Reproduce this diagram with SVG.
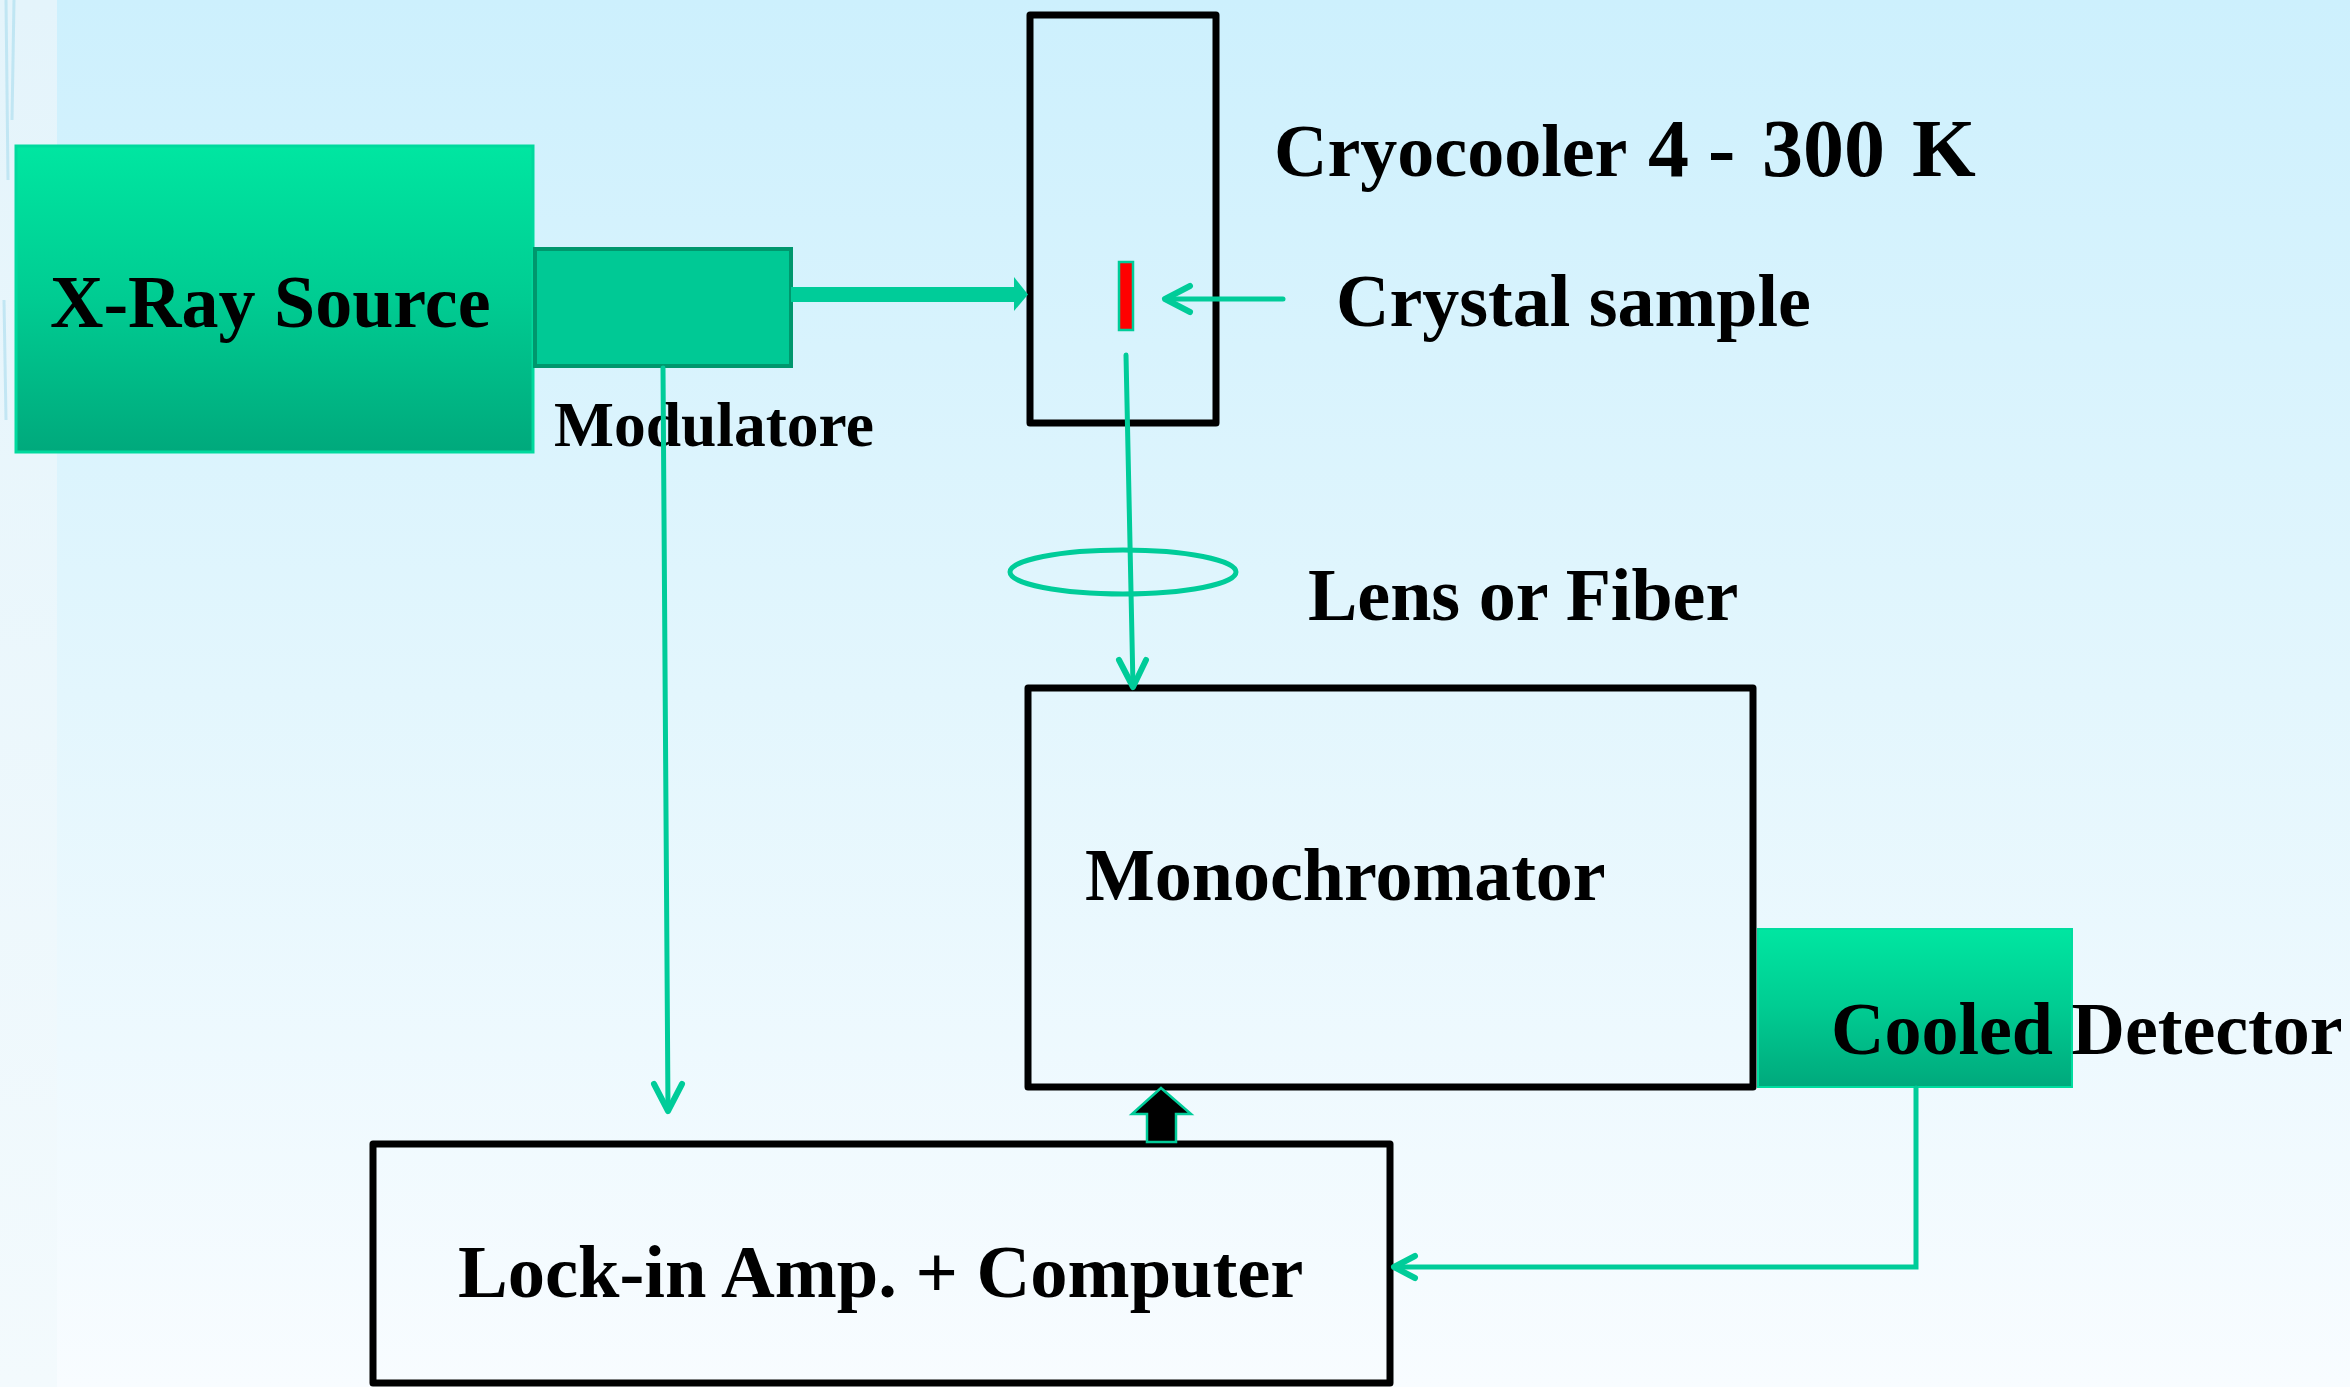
<svg xmlns="http://www.w3.org/2000/svg" width="2350" height="1387" viewBox="0 0 2350 1387">
<defs>
<linearGradient id="bg" x1="0" y1="0" x2="0" y2="1">
<stop offset="0" stop-color="#cdf0fd"/>
<stop offset="0.5" stop-color="#e3f6fd"/>
<stop offset="1" stop-color="#f8fcff"/>
</linearGradient>
<linearGradient id="strip" x1="0" y1="0" x2="0" y2="1">
<stop offset="0" stop-color="#e4f4fb"/>
<stop offset="1" stop-color="#f3fafd"/>
</linearGradient>
<linearGradient id="green" x1="0" y1="0" x2="0" y2="1">
<stop offset="0" stop-color="#00e6a1"/>
<stop offset="0.5" stop-color="#00cc92"/>
<stop offset="1" stop-color="#00a97c"/>
</linearGradient>
<style>
.lbl{font-family:"Liberation Serif","Times New Roman",serif;font-weight:bold;fill:#000;}
.box{fill:none;stroke:#000;stroke-width:7;stroke-linejoin:round;}
.wire{fill:none;stroke:#00cc99;stroke-width:5;stroke-linecap:round;stroke-linejoin:miter;}
.head{fill:none;stroke:#00cc99;stroke-width:6;stroke-linecap:round;stroke-linejoin:round;}
</style>
</defs>
<rect x="0" y="0" width="2350" height="1387" fill="url(#bg)"/>
<rect x="0" y="0" width="57" height="1387" fill="url(#strip)"/>
<path d="M6 0 L8 180 M14 0 L12 120 M4 300 L6 420" stroke="#a9dcef" stroke-width="3" fill="none" opacity="0.6"/>

<g id="xray-source">
<rect x="16" y="146" width="517" height="306" fill="url(#green)" stroke="#00d99d" stroke-width="3"/>
<text class="lbl" x="50" y="327" font-size="74">X-Ray Source</text>
</g>

<g id="modulatore">
<rect x="535" y="249" width="256" height="117" fill="#00c995" stroke="#00976d" stroke-width="4"/>
<text class="lbl" x="554" y="446" font-size="63.5">Modulatore</text>
</g>

<g id="cryocooler">
<rect x="1030" y="15" width="186" height="408" class="box" stroke-width="6"/>
<text class="lbl" font-size="74" y="176"><tspan x="1274">Cryocooler</tspan><tspan x="1648" font-size="82">4</tspan><tspan x="1708" font-size="82">-</tspan><tspan x="1762" font-size="82">300</tspan><tspan x="1912" font-size="82">K</tspan></text>
</g>

<g id="crystal-sample">
<rect x="1119" y="262" width="14" height="68" fill="#ff0000" stroke="#00cc99" stroke-width="2.5"/>
<text class="lbl" x="1336" y="326" font-size="74">Crystal sample</text>
</g>

<g id="lens">
<ellipse cx="1123" cy="572" rx="113" ry="22" fill="none" stroke="#00cc99" stroke-width="5"/>
<text class="lbl" x="1308" y="620" font-size="74">Lens or Fiber</text>
</g>

<g id="monochromator">
<rect x="1028" y="688" width="725" height="399" class="box"/>
<text class="lbl" x="1085" y="900" font-size="74">Monochromator</text>
</g>

<g id="cooled-detector">
<rect x="1758" y="929" width="314" height="158" fill="url(#green)" stroke="#00dd9f" stroke-width="2"/>
<text class="lbl" x="1831" y="1054" font-size="74">Cooled Detector</text>
</g>

<g id="lockin">
<rect x="373" y="1144" width="1017" height="239" class="box"/>
<text class="lbl" x="458" y="1297" font-size="74.5">Lock-in Amp. + Computer</text>
</g>

<g id="connectors">
<rect x="791" y="287" width="225" height="15" fill="#00cc99"/>
<polygon points="1014,277 1028,294.5 1014,311" fill="#00cc99"/>
<line x1="1283" y1="299" x2="1166" y2="299" class="wire" stroke-width="7" stroke-linecap="butt"/>
<polyline points="1190,286 1165,299 1190,312" class="head" stroke-width="7"/>
<line x1="1126" y1="355" x2="1133" y2="686" class="wire" stroke-width="6" stroke-linecap="butt"/>
<polyline points="1119,660 1133,687 1146,660" class="head"/>
<line x1="663" y1="368" x2="668" y2="1110" class="wire" stroke-linecap="butt"/>
<polyline points="654,1084 668,1111 682,1084" class="head"/>
<polyline points="1916,1088 1916,1267 1396,1267" class="wire" stroke-width="6" stroke-linecap="butt"/>
<polyline points="1415,1256 1394,1267 1415,1278" class="head" stroke-width="6"/>
<polygon points="1161,1088 1191,1114 1176,1114 1176,1142 1147,1142 1147,1114 1132,1114" fill="#000" stroke="#00cc99" stroke-width="2.5" stroke-linejoin="miter"/>
</g>
</svg>
